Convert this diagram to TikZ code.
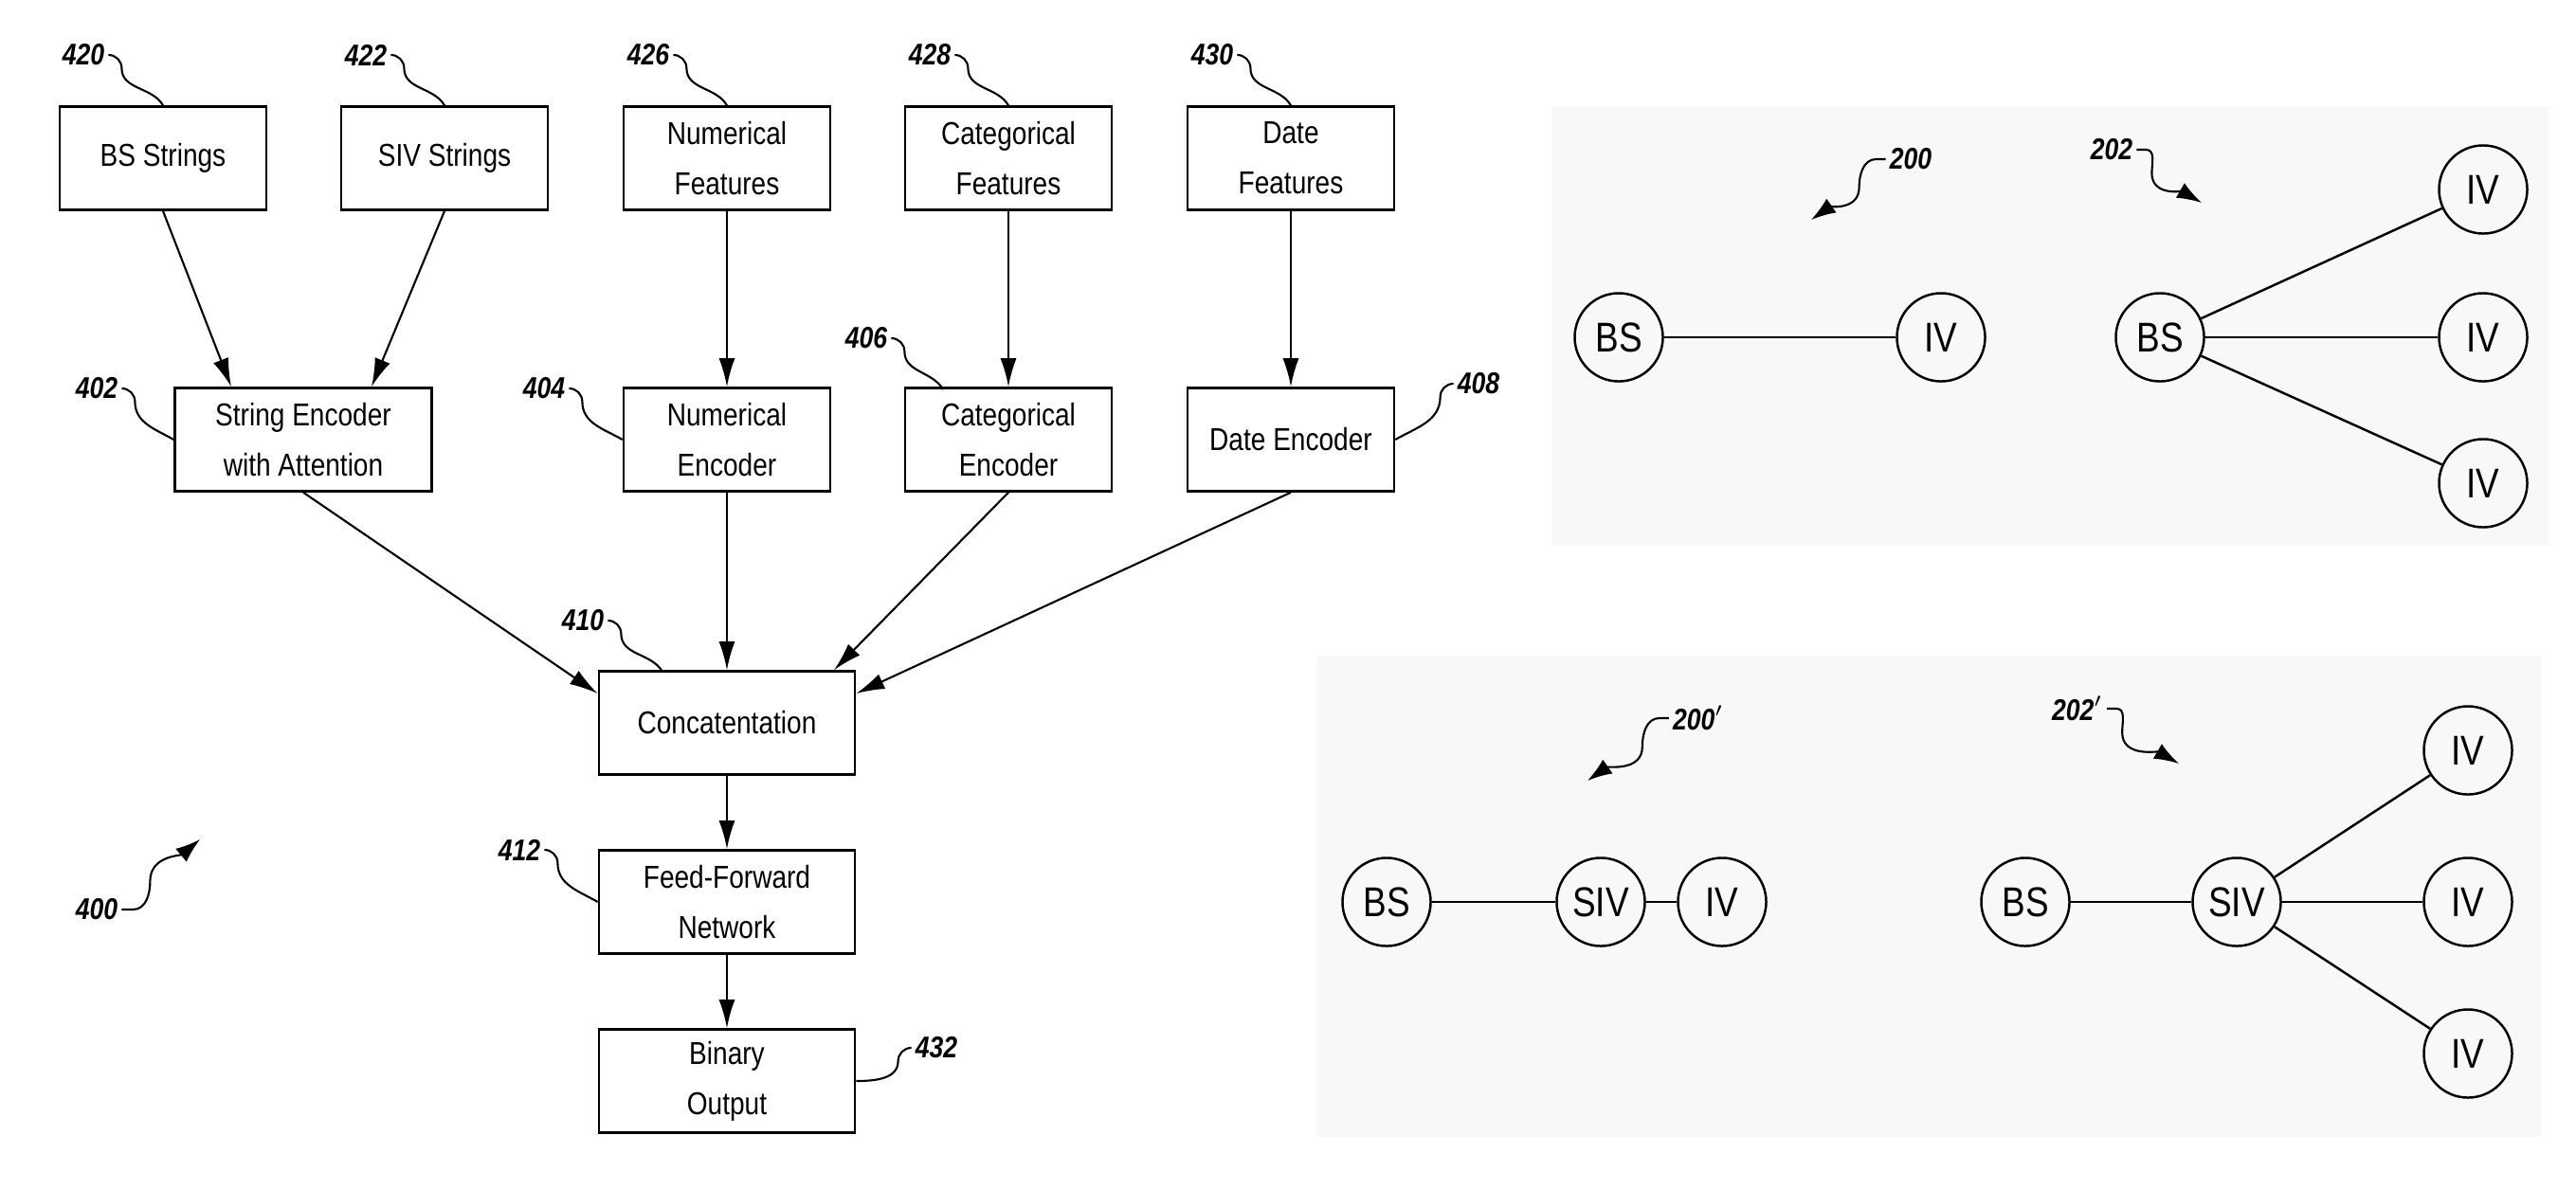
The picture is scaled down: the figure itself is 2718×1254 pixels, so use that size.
\documentclass[tikz,border=0pt]{standalone}
\usepackage{fontspec}
\setsansfont{Liberation Sans}[FakeStretch=0.84]
\usepackage{tikz}
\usetikzlibrary{arrows.meta, positioning}

\definecolor{panelgray}{HTML}{F8F8F8}

\tikzset{
    box/.style={draw, line width=0.7pt, align=center, minimum width=2.18cm, minimum height=1.09cm,
        font=\sffamily\fontsize{9.5}{15}\selectfont, inner sep=1pt},
    ring/.style={draw, circle, line width=0.7pt, minimum size=0.93cm, inner sep=0pt,
        font=\sffamily\fontsize{12.5}{14}\selectfont},
    ref/.style={font=\sffamily\bfseries\itshape\fontsize{9}{10}\selectfont, inner sep=1pt},
    flow/.style={-{Latex[length=3mm,width=1.7mm]}, line width=0.6pt},
    leader/.style={line width=0.6pt},
    link/.style={line width=0.7pt},
}

\begin{document}
\begin{tikzpicture}[x=0.01cm, y=-0.01cm]
    \useasboundingbox (0,0) rectangle (2718,1254);
    % shaded panels on the right
    \fill[panelgray] (1638,112) rectangle (2689,576);
    \fill[panelgray] (1389,692) rectangle (2681,1200);

    % feature boxes
    \node[box] at (172,167) (bss) {BS Strings};
    \node[box] at (469,167) (sivs) {SIV Strings};
    \node[box] at (767,167) (numf) {Numerical\\Features};
    \node[box] at (1064,167) (catf) {Categorical\\Features};
    \node[box] at (1362,167) (datef) {Date\\Features};
    % encoders
    \node[box, minimum width=2.71cm] at (320,464) (strenc) {String Encoder\\with Attention};
    \node[box] at (767,464) (numenc) {Numerical\\Encoder};
    \node[box] at (1064,464) (catenc) {Categorical\\Encoder};
    \node[box] at (1362,464) (dateenc) {Date Encoder};
    % output chain
    \node[box, minimum width=2.70cm] at (767,763) (concat) {Concatentation};
    \node[box, minimum width=2.70cm] at (767,952) (ffn) {Feed-Forward\\Network};
    \node[box, minimum width=2.70cm] at (767,1141) (binout) {Binary\\Output};

    \draw[flow] (bss.south) -- (strenc.north -| 244,0);
    \draw[flow] (sivs.south) -- (strenc.north -| 392,0);
    \draw[flow] (numf) -- (numenc);
    \draw[flow] (catf) -- (catenc);
    \draw[flow] (datef) -- (dateenc);
    \draw[flow] (strenc.south) -- (concat.west |- 0,732);
    \draw[flow] (numenc) -- (concat);
    \draw[flow] (catenc.south) -- (concat.north -| 880,0);
    \draw[flow] (dateenc.south) -- (concat.east |- 0,732);
    \draw[flow] (concat) -- (ffn);
    \draw[flow] (ffn) -- (binout);

    % reference numerals
    \node[ref] at (88,58) (r420) {420};
    \node[ref] at (386,58) (r422) {422};
    \node[ref] at (684,58) (r426) {426};
    \node[ref] at (981,58) (r428) {428};
    \node[ref] at (1279,58) (r430) {430};
    \node[ref] at (102,410) (r402) {402};
    \node[ref] at (574,410) (r404) {404};
    \node[ref] at (914,357) (r406) {406};
    \node[ref] at (1560,405) (r408) {408};
    \node[ref] at (615,655) (r410) {410};
    \node[ref] at (548,897) (r412) {412};
    \node[ref] at (988,1106) (r432) {432};
    \node[ref] at (102,960) (r400) {400};
    \coordinate (t400) at (211,886);
    \coordinate (t406) at (995,411);
    \coordinate (t410) at (699,709);

    \foreach \lbl/\dst in {r420/bss.north, r422/sivs.north, r426/numf.north,
        r428/catf.north, r430/datef.north, r406/t406, r410/t410}
        \draw[leader] (\lbl.east) to[out=0,in=90] ++(14,14) to[out=-90,in=120] (\dst);
    \foreach \lbl/\dst in {r402/strenc.west, r404/numenc.west, r412/ffn.west}
        \draw[leader] (\lbl.east) to[out=0,in=90] ++(14,14) to[out=-90,in=150] (\dst);
    \draw[leader] (r408.west) to[out=180,in=90] ++(-14,14) to[out=-90,in=30] (dateenc.east);
    \draw[leader] (r432.west) to[out=180,in=90] ++(-14,14) to[out=-90,in=0] (binout.east);
    \draw[leader, -{Latex[length=2.6mm,width=1.8mm]}] (r400.east) -- ++(12,0)
        to[out=0,in=-90] ++(18,-30) to[out=90,in=-140] (t400);

    % graph 200
    \node[ring] at (1708,356) (bsa) {BS};
    \node[ring] at (2048,356) (iva) {IV};
    \draw[link] (bsa) -- (iva);
    \node[ref] at (2016,168) (r200) {200};
    \coordinate (t200) at (1911,232);
    \draw[leader, -{Latex[length=2.6mm,width=1.8mm]}] (r200.west) -- ++(-10,0)
        to[out=180,in=90] ++(-18,30) to[out=-90,in=35] (t200);

    % graph 202
    \node[ring] at (2279,356) (bsb) {BS};
    \node[ring] at (2620,200) (ivb1) {IV};
    \node[ring] at (2620,356) (ivb2) {IV};
    \node[ring] at (2620,510) (ivb3) {IV};
    \foreach \iv in {ivb1, ivb2, ivb3}
        \draw[link] (bsb) -- (\iv);
    \node[ref] at (2228,158) (r202) {202};
    \coordinate (t202) at (2323,214);
    \draw[leader, -{Latex[length=2.6mm,width=1.8mm]}] (r202.east) -- ++(10,0)
        to[out=0,in=90] ++(6,25) to[out=-90,in=150] (t202);

    % graph 200'
    \node[ring] at (1463,952) (bsc) {BS};
    \node[ring] at (1689,952) (sivc) {SIV};
    \node[ring] at (1817,952) (ivc) {IV};
    \draw[link] (bsc) -- (sivc) -- (ivc);
    \node[ref] at (1792,758) (r200p) {200$'$};
    \coordinate (t200p) at (1675,824);
    \draw[leader, -{Latex[length=2.6mm,width=1.8mm]}] (r200p.west) -- ++(-10,0)
        to[out=180,in=90] ++(-18,30) to[out=-90,in=35] (t200p);

    % graph 202'
    \node[ring] at (2137,952) (bsd) {BS};
    \node[ring] at (2360,952) (sivd) {SIV};
    \node[ring] at (2604,792) (ivd1) {IV};
    \node[ring] at (2604,952) (ivd2) {IV};
    \node[ring] at (2604,1112) (ivd3) {IV};
    \draw[link] (bsd) -- (sivd);
    \foreach \iv in {ivd1, ivd2, ivd3}
        \draw[link] (sivd) -- (\iv);
    \node[ref] at (2192,748) (r202p) {202$'$};
    \coordinate (t202p) at (2299,806);
    \draw[leader, -{Latex[length=2.6mm,width=1.8mm]}] (r202p.east) -- ++(10,0)
        to[out=0,in=90] ++(6,25) to[out=-90,in=150] (t202p);
\end{tikzpicture}
\end{document}
